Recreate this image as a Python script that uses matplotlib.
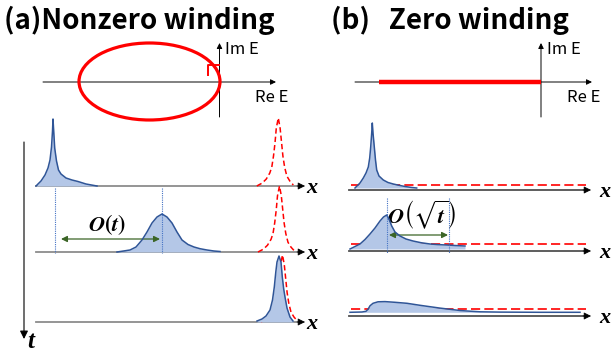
import numpy as np
import matplotlib
matplotlib.use('Agg')
import matplotlib.pyplot as plt
from matplotlib.patches import Ellipse

plt.rcParams['font.family'] = ['Noto Sans CJK JP', 'DejaVu Sans']
plt.rcParams['mathtext.fontset'] = 'stix'

# panel titles and labels
titles = ['(a)Nonzero winding', '(b)   Zero winding']
axis_labels = ['Im E', 'Re E']

# (a) profiles: x position and height above the baseline
a1_x = [36, 41, 45, 48, 50, 51.5, 52.5, 53, 53.7, 54.7, 56.5, 58.5, 61, 66, 72, 78, 86, 97]
a1_h = [0, 5, 11, 18, 26, 39, 55, 67, 55, 38, 25, 16, 12, 8, 6, 4.5, 2, 0]
a2_x = [117, 130, 136, 142, 147, 152, 157, 162, 167, 172, 177, 182, 188, 194, 200, 207, 214, 220]
a2_h = [0, 2, 5, 12, 20, 29, 35, 38, 35, 29, 20, 12, 7.5, 5, 3.3, 2, 1, 0.5]
a3_x = [257, 262, 266, 270, 272.5, 274.3, 275.8, 277, 279, 281, 282.3, 283.7, 285, 287, 290, 293]
a3_h = [1, 3, 6, 12, 22, 35, 50, 60, 66, 60, 45, 33, 25, 14, 5, 1]
# red (left eigenvector) peak shape, offsets from centre
red_dx = [-21.5, -16, -12, -8.5, -6.5, -4.8, -3.3, -2, 0, 1.8, 3.3, 4.6, 6.3, 8.5, 11.5, 15]
red_h = [0, 3, 7, 13, 19, 30, 43, 58, 68, 58, 43, 30, 19, 10, 5, 1]
red_centres = [278.3, 279.5, 282.5]

# (b) profiles
b1_x = [355, 360, 363.3, 366, 368.3, 369.7, 370.7, 371.7, 372.3, 373, 374.3, 375.5, 376.7, 379,
        383.3, 388, 393.3, 399, 405, 411, 416.7]
b1_h = [0, 5, 10, 15, 21, 30, 41, 55, 65, 55, 41, 28, 18, 12, 8, 5.5, 4, 2.7, 1.5, 0.6, 0]
b2_x = [350, 355, 360, 365, 370, 375, 380, 383.5, 386.7, 389, 391.7, 395, 400, 406, 413, 421,
        430, 438, 446.7, 455, 465]
b2_h = [0, 2.5, 5, 9.5, 15, 21, 28, 32, 34, 30, 23, 17, 13, 10, 8, 6.3, 5, 4.4, 4, 3.5, 3]
b3_x = [350, 362, 366, 368, 370, 373, 378, 385, 395, 407, 420, 430, 440, 450, 460, 467, 480,
        500, 540, 580]
b3_h = [0, 0.3, 1, 3, 6.5, 9, 10.5, 10.7, 10, 9, 7, 5.6, 4.2, 3, 1.8, 1.3, 0.5, 0.2, 0, 0]

BLUE = '#2f5597'
FILL = '#b4c7e7'
RED = '#ff0000'
GREEN = '#3b6526'

fig = plt.figure(figsize=(6.11, 3.53), dpi=100)
ax = fig.add_axes([0, 0, 1, 1])
ax.set_xlim(0, 611)
ax.set_ylim(353, 0)
ax.axis('off')


def arrow(x0, y0, x1, y1, color='black', lw=1.0, ms=10, style='-|>'):
    ax.annotate('', xy=(x1, y1), xytext=(x0, y0),
                arrowprops=dict(arrowstyle=style, color=color, lw=lw, mutation_scale=ms,
                                shrinkA=0, shrinkB=0))


def x_axis(x0, x1, y, color):
    # grey shaft, black head
    ax.plot([x0, x1 - 6], [y, y], color=color, lw=1.3, zorder=1)
    arrow(x1 - 8, y, x1, y, color='black', lw=0.5, ms=11)


def profile(xs, hs, base, fill_base=None, z=3):
    xs = np.array(xs, float)
    ys = base - np.array(hs, float)
    fb = base if fill_base is None else fill_base
    ax.fill_between(xs, ys, fb, color=FILL, lw=0, zorder=z)
    ax.plot(xs, ys, color=BLUE, lw=1.1, zorder=z + 0.1)


def red_peak(c, base, scale=1.0):
    xs = c + np.array(red_dx)
    ys = base - np.array(red_h) * scale
    ax.plot(xs, ys, color=RED, lw=1.1, ls=(0, (3.5, 2)), zorder=2)


xfont = dict(fontsize=16, fontfamily='Liberation Serif', fontweight='bold',
             fontstyle='italic', va='center', ha='left')

# titles
ax.text(4, 20, titles[0], fontsize=20, fontweight='bold', va='center', ha='left')
ax.text(331, 20, titles[1], fontsize=20, fontweight='bold', va='center', ha='left')

# --- (a) complex plane
arrow(43, 82, 276, 82, lw=0.7, ms=8)
arrow(219.5, 117, 219.5, 43, lw=0.7, ms=8)
ax.add_patch(Ellipse((149.5, 81.5), 141, 77, fill=False, ec=RED, lw=2.3, zorder=4))
ax.plot([208, 208, 219], [75, 64.5, 64.5], color=RED, lw=1.4, zorder=4)
ax.text(225, 49, axis_labels[0], fontsize=12, va='center', ha='left')
ax.text(255, 97, axis_labels[1], fontsize=12, va='center', ha='left')

# --- (b) complex plane
arrow(355, 82, 592, 82, lw=0.7, ms=8)
arrow(541, 117, 541, 43, lw=0.7, ms=8)
ax.plot([379, 541], [82, 82], color=RED, lw=3.2, solid_capstyle='butt', zorder=4)
ax.text(547, 49, axis_labels[0], fontsize=12, va='center', ha='left')
ax.text(567, 97, axis_labels[1], fontsize=12, va='center', ha='left')

# --- (a) time evolution
rows_a = [186, 252, 322]
for yb in rows_a:
    x_axis(36, 305, yb, '#8c8c8c')
    ax.text(306, yb + 2, 'x', **xfont)
arrow(24, 142, 24, 339, lw=0.8, ms=12)
ax.text(27, 341, 't', fontsize=18, fontfamily='Liberation Serif', fontweight='bold',
        fontstyle='italic', va='center', ha='left')

red_peak(red_centres[0], rows_a[0])
red_peak(red_centres[1], rows_a[1], 66 / 68)
red_peak(red_centres[2], rows_a[2], 67 / 68)
profile(a1_x, a1_h, rows_a[0])
profile(a2_x, a2_h, rows_a[1])
profile(a3_x, a3_h, rows_a[2])

ax.plot([55, 55], [188, 253], color='#4472c4', lw=0.8, ls=(0, (1, 1)), zorder=5)
ax.plot([162, 162], [188, 253], color='#4472c4', lw=0.8, ls=(0, (1, 1)), zorder=5)
arrow(61, 239, 160, 239, color=GREEN, lw=0.9, ms=9, style='<|-|>')
ax.text(107, 225, '$\\boldsymbol{O(t)}$', fontsize=16, va='center', ha='center')

# --- (b) time evolution
rows_b = [190, 251, 316]
reds_b = [185, 244.3, 309.3]
fills_b = [188, 249, 312.3]
for yb, yr in zip(rows_b, reds_b):
    x_axis(349, 591, yb, '#505050')
    ax.text(599, yb + 2, 'x', **xfont)
    ax.plot([351, 586], [yr, yr], color=RED, lw=1.2, ls=(0, (5.5, 2.5)), zorder=2)

profile(b1_x, b1_h, fills_b[0])
profile(b2_x, b2_h, fills_b[1])
profile(b3_x, b3_h, fills_b[2])

ax.plot([386.5, 386.5], [198, 253], color='#4472c4', lw=0.8, ls=(0, (1, 1)), zorder=5)
ax.plot([448.5, 448.5], [198, 253], color='#4472c4', lw=0.8, ls=(0, (1, 1)), zorder=5)
arrow(389, 235, 448, 235, color=GREEN, lw=0.9, ms=9, style='<|-|>')
ax.text(421, 215, '$\\boldsymbol{O}\\left(\\sqrt{\\boldsymbol{t}}\\right)$', fontsize=16,
        va='center', ha='center')

fig.savefig('out.png', dpi=100)
